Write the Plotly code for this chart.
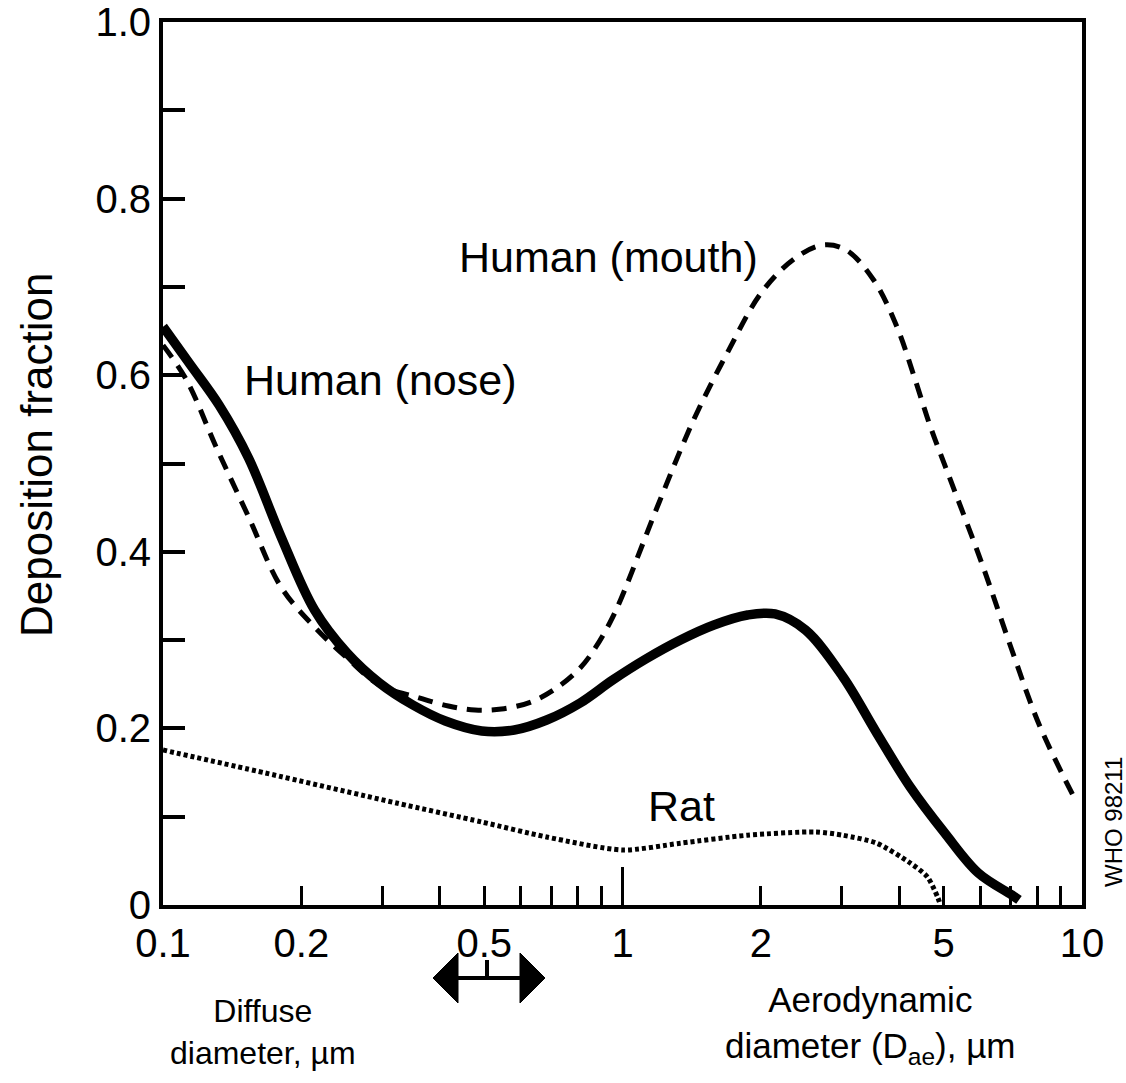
import plotly.graph_objects as go

# ---------------- data ----------------
nose_x = [0.1, 0.1143, 0.1325, 0.1536, 0.1807, 0.2137, 0.2515, 0.2959, 0.3498, 0.4117,
          0.494, 0.5815, 0.684, 0.8088, 0.9519, 1.124, 1.337, 1.581, 1.871, 2.147,
          2.502, 3.02, 3.574, 4.228, 5.027, 5.947, 7.036, 7.292]
nose_y = [0.655, 0.613, 0.566, 0.506, 0.417, 0.3341, 0.2854, 0.2514, 0.2265, 0.2084,
          0.1971, 0.1982, 0.2095, 0.2288, 0.2548, 0.2786, 0.3001, 0.3171, 0.3284, 0.3296,
          0.3114, 0.2582, 0.1948, 0.1336, 0.0815, 0.0362, 0.0113, 0.0057]

mouth_x = [0.1, 0.1125, 0.1305, 0.1536, 0.1807, 0.2137, 0.2515, 0.2959, 0.355, 0.4178,
           0.4774, 0.5453, 0.6323, 0.7187, 0.8088, 0.8752, 0.938, 0.9902, 1.195, 1.428,
           1.69, 2.01, 2.377, 2.729, 3.067, 3.52, 3.957, 4.315, 4.681, 5.105, 6.039,
           7.036, 8.074, 9.552]
mouth_y = [0.634, 0.5946, 0.5187, 0.4394, 0.3601, 0.3148, 0.2797, 0.2492, 0.2356, 0.2254,
           0.2208, 0.2220, 0.2299, 0.2458, 0.2684, 0.2922, 0.3194, 0.3454, 0.4530, 0.5493,
           0.6251, 0.6942, 0.7327, 0.7474, 0.7418, 0.7078, 0.6546, 0.5980, 0.5413, 0.4892,
           0.3885, 0.2888, 0.2039, 0.1246]

rat_x = [0.1, 0.167, 0.322, 0.494, 0.684, 1.0, 1.337, 1.871, 2.633, 3.02, 3.574,
         4.228, 4.61, 4.85, 4.92]
rat_y = [0.1755, 0.1495, 0.1155, 0.094, 0.077, 0.0623, 0.070, 0.079, 0.0827, 0.079,
         0.070, 0.0476, 0.0317, 0.009, 0.0]

x_label_vals = [0.1, 0.2, 0.5, 1, 2, 5, 10]
x_label_text = ['0.1', '0.2', '0.5', '1', '2', '5', '10']
x_minor_vals = [0.3, 0.4, 0.6, 0.7, 0.8, 0.9, 3, 4, 6, 7, 8, 9]
x_long_tick = [1]
y_label_vals = [0, 0.2, 0.4, 0.6, 0.8, 1.0]
y_label_text = ['0', '0.2', '0.4', '0.6', '0.8', '1.0']
y_minor_vals = [0.1, 0.3, 0.5, 0.7, 0.9]

series_labels = ['Human (mouth)', 'Human (nose)', 'Rat']
x_label_left = 'Diffuse<br>diameter, µm'
x_label_right = 'Aerodynamic<br>diameter (D<sub>ae</sub>), µm'
y_label = 'Deposition fraction'
credit = 'WHO 98211'

# ---------------- layout geometry ----------------
W, H = 1126, 1083
L, R, T, B = 163, 1082, 22, 905   # plot area in pixels
FONT = 'Liberation Sans, Arial, Helvetica, sans-serif'


def px(x):
    return (x - L) / (R - L)


def py(y):
    return (B - y) / (B - T)


fig = go.Figure()
fig.add_trace(go.Scatter(
    x=mouth_x, y=mouth_y, mode='lines', name=series_labels[0], showlegend=False,
    line=dict(color='black', width=5, dash='15px,10px', shape='spline', smoothing=1.0)))
fig.add_trace(go.Scatter(
    x=nose_x, y=nose_y, mode='lines', name=series_labels[1], showlegend=False,
    line=dict(color='black', width=9.5, shape='spline', smoothing=1.0)))
fig.add_trace(go.Scatter(
    x=rat_x, y=rat_y, mode='lines', name=series_labels[2], showlegend=False, xaxis='x2',
    line=dict(color='black', width=5, dash='4px,3px', shape='spline', smoothing=0.7)))

tickfont = dict(family=FONT, size=40, color='black')

fig.update_layout(
    width=W, height=H,
    margin=dict(l=L, r=W - R, t=T, b=H - B, pad=0),
    paper_bgcolor='white', plot_bgcolor='white',
    showlegend=False,
    xaxis=dict(type='log', range=[-1, 1], tickmode='array', tickvals=x_label_vals,
               ticktext=x_label_text, ticks='inside', ticklen=19, tickwidth=3,
               tickcolor='black', tickfont=tickfont, automargin=False,
               minor=dict(tickmode='array', tickvals=x_minor_vals, ticks='inside',
                          ticklen=19, tickwidth=3, tickcolor='black', showgrid=False),
               showline=True, linewidth=4, linecolor='black', mirror=True,
               showgrid=False, zeroline=False),
    xaxis2=dict(type='log', range=[-1, 1], overlaying='x', anchor='y', side='bottom',
                tickmode='array', tickvals=x_long_tick, ticks='inside', ticklen=38,
                tickwidth=3, tickcolor='black', showticklabels=False, showline=False,
                showgrid=False, zeroline=False, automargin=False),
    yaxis=dict(range=[0, 1], tickmode='array', tickvals=y_label_vals, ticktext=y_label_text,
               ticks='inside', ticklen=22, tickwidth=3.5, tickcolor='black',
               tickfont=tickfont, automargin=False,
               minor=dict(tickmode='array', tickvals=y_minor_vals, ticks='inside',
                          ticklen=22, tickwidth=3.5, tickcolor='black', showgrid=False),
               showline=True, linewidth=4, linecolor='black', mirror=True,
               showgrid=False, zeroline=False),
)

ann_font = dict(family=FONT, size=43, color='black')
fig.add_annotation(text=series_labels[0], xref='paper', yref='paper', x=px(608), y=py(257),
                   showarrow=False, font=ann_font, xanchor='center', yanchor='middle')
fig.add_annotation(text=series_labels[1], xref='paper', yref='paper', x=px(380), y=py(380),
                   showarrow=False, font=ann_font, xanchor='center', yanchor='middle')
fig.add_annotation(text=series_labels[2], xref='paper', yref='paper', x=px(681), y=py(806),
                   showarrow=False, font=ann_font, xanchor='center', yanchor='middle')

fig.add_annotation(text=y_label, xref='paper', yref='paper', x=px(36), y=py(455),
                   showarrow=False, textangle=-90, font=dict(family=FONT, size=44, color='black'),
                   xanchor='center', yanchor='middle')
fig.add_annotation(text=credit, xref='paper', yref='paper', x=px(1113), y=py(822),
                   showarrow=False, textangle=-90, font=dict(family=FONT, size=24, color='black'),
                   xanchor='center', yanchor='middle')

fig.add_annotation(text=x_label_left, xref='paper', yref='paper', x=px(263), y=py(1032),
                   showarrow=False, font=dict(family=FONT, size=32, color='black'),
                   xanchor='center', yanchor='middle', align='center')
fig.add_annotation(text=x_label_right, xref='paper', yref='paper', x=px(870), y=py(1025),
                   showarrow=False, font=dict(family=FONT, size=35, color='black'),
                   xanchor='center', yanchor='middle', align='center')

# double-headed arrow marking 0.5 µm below the axis (decoration, pixel-placed)
ac_y = 978
stem_x = 487
fig.add_shape(type='line', xref='paper', yref='paper', x0=px(452), x1=px(525),
              y0=py(ac_y), y1=py(ac_y), line=dict(color='black', width=4))
fig.add_shape(type='line', xref='paper', yref='paper', x0=px(stem_x), x1=px(stem_x),
              y0=py(960), y1=py(ac_y), line=dict(color='black', width=4))
lh = f"M {px(433)},{py(ac_y)} L {px(458)},{py(ac_y-25)} L {px(458)},{py(ac_y+25)} Z"
rh = f"M {px(545)},{py(ac_y)} L {px(520)},{py(ac_y-25)} L {px(520)},{py(ac_y+25)} Z"
fig.add_shape(type='path', xref='paper', yref='paper', path=lh,
              fillcolor='black', line=dict(color='black', width=1))
fig.add_shape(type='path', xref='paper', yref='paper', path=rh,
              fillcolor='black', line=dict(color='black', width=1))

fig.write_html('out.html')
